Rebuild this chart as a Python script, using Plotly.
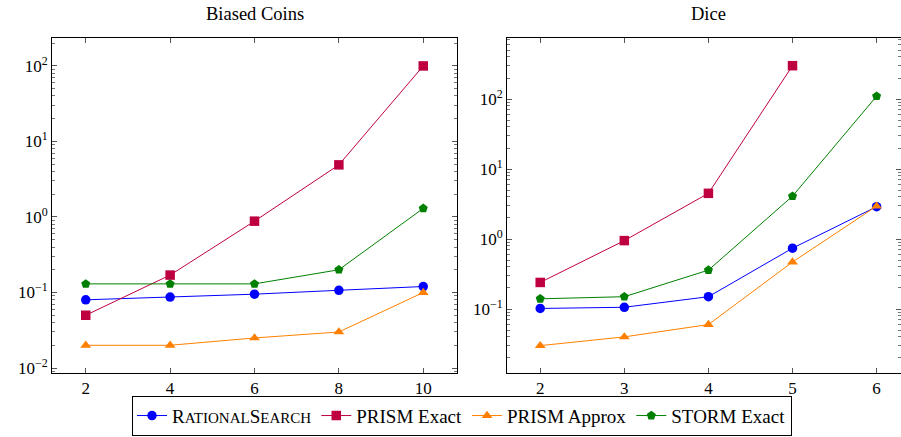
import plotly.graph_objects as go

coins_x = [2, 4, 6, 8, 10]
coins_rational = [0.08, 0.087, 0.095, 0.107, 0.12]
coins_prism_exact = [0.05, 0.17, 0.88, 4.9, 100]
coins_prism_approx = [0.02, 0.02, 0.025, 0.03, 0.1]
coins_storm = [0.13, 0.13, 0.13, 0.2, 1.3]

dice_x = [2, 3, 4, 5, 6]
dice_rational = [0.102, 0.106, 0.15, 0.74, 2.9]
dice_prism_exact = [0.24, 0.95, 4.5, 300]
dice_prism_approx = [0.03, 0.04, 0.06, 0.47, 2.95]
dice_storm = [0.14, 0.15, 0.36, 4.1, 110]

coins_major_exp = [-2, -1, 0, 1, 2]
dice_major_exp = [-1, 0, 1, 2]

series_names = ["R<span style='font-size:15px'>ATIONAL</span>S<span style='font-size:15px'>EARCH</span>",
                "PRISM Exact", "PRISM Approx", "STORM Exact"]
colors = ["#0000ff", "#bf0040", "#ff8000", "#008000"]
symbols = ["circle", "square", "triangle-up", "pentagon"]
sizes = [9.5, 9.5, 9.5, 9.5]

FONT = "Liberation Serif"
FS = 17

fig = go.Figure()
coins = [coins_rational, coins_prism_exact, coins_prism_approx, coins_storm]
dice = [dice_rational, dice_prism_exact, dice_prism_approx, dice_storm]
for i in range(4):
    fig.add_trace(go.Scatter(x=coins_x, y=coins[i], mode="lines+markers", name=series_names[i],
                             line=dict(color=colors[i], width=1),
                             marker=dict(symbol=symbols[i], size=sizes[i], color=colors[i]),
                             xaxis="x", yaxis="y", legendgroup=str(i)))
for i in range(4):
    fig.add_trace(go.Scatter(x=dice_x[:len(dice[i])], y=dice[i], mode="lines+markers", name=series_names[i],
                             line=dict(color=colors[i], width=1),
                             marker=dict(symbol=symbols[i], size=sizes[i], color=colors[i]),
                             xaxis="x2", yaxis="y2", legendgroup=str(i), showlegend=False))

W, H = 901, 437
ydom = [1 - 373 / H, 1 - 38 / H]
minor_vals = [m * 10.0 ** k for k in range(-3, 4) for m in range(2, 10)]

def yax(rng, anchor, exps):
    return dict(type="log", range=rng, domain=ydom, anchor=anchor,
                tickmode="array", tickvals=[10.0 ** e for e in exps],
                ticktext=["10<sup>%s</sup>" % str(e).replace("-", "−") for e in exps],
                showline=True, linecolor="black", linewidth=1, mirror="allticks",
                ticks="inside", ticklen=5, tickcolor="#555", tickwidth=1,
                minor=dict(tickmode="array", tickvals=minor_vals, ticks="inside",
                           ticklen=3, tickcolor="#777", tickwidth=1, showgrid=False),
                showgrid=False, zeroline=False, automargin=False,
                tickfont=dict(family=FONT, size=FS, color="black"))

def xax(rng, dom, anchor, vals):
    return dict(range=rng, domain=dom, anchor=anchor, tickvals=vals,
                showline=True, linecolor="black", linewidth=1, mirror="allticks",
                ticks="inside", ticklen=5, tickcolor="#555", tickwidth=1,
                showgrid=False, zeroline=False, automargin=False,
                tickfont=dict(family=FONT, size=FS, color="black"))

coins_yrange = [-2.066, 2.37]
dice_yrange = [-1.914, 2.873]

fig.update_layout(
    width=W, height=H,
    margin=dict(l=0, r=0, t=0, b=0, autoexpand=False),
    paper_bgcolor="white", plot_bgcolor="white",
    font=dict(family=FONT, size=FS, color="black"),
    xaxis=xax([1.2, 10.8], [52 / W, 457 / W], "y", coins_x),
    yaxis=yax(coins_yrange, "x", coins_major_exp),
    xaxis2=xax([1.605, 6.29], [507 / W, 1.0], "y2", dice_x),
    yaxis2=yax(dice_yrange, "x2", dice_major_exp),
    legend=dict(orientation="h", x=462 / W, xanchor="center", y=0.003, yanchor="bottom",
                bordercolor="black", borderwidth=1, bgcolor="white",
                font=dict(family=FONT, size=19, color="black"),
                itemwidth=30, tracegroupgap=0),
    annotations=[
        dict(text="Biased Coins", x=255 / W, y=1 - 14 / H, xref="paper", yref="paper",
             showarrow=False, font=dict(family=FONT, size=18.5), xanchor="center", yanchor="middle"),
        dict(text="Dice", x=708 / W, y=1 - 14 / H, xref="paper", yref="paper",
             showarrow=False, font=dict(family=FONT, size=18.5), xanchor="center", yanchor="middle"),
    ],
)

fig.write_html("out.html", config={"displayModeBar": False},
               post_script="document.body.style.margin='0px';")
